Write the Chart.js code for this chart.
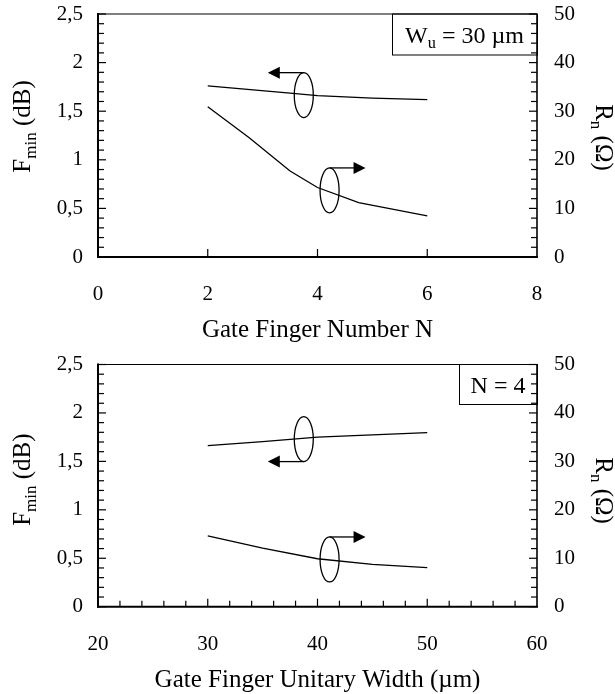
<!DOCTYPE html>
<html>
<head>
<meta charset="utf-8">
<script src="https://cdn.jsdelivr.net/npm/chart.js@4"></script>
<style>
  body { margin: 0; background: #fff; }
  canvas { display: block; }
</style>
</head>
<body>
<canvas id="top-chart" width="615" height="347"></canvas>
<canvas id="bottom-chart" width="615" height="347"></canvas>
<script>
// Top panel: versus gate finger number N (Wu = 30 um)
var fingerNF = [2, 3.5, 4, 5, 6];
var fminByN = [1.76, 1.685, 1.66, 1.635, 1.62];
var fingerNR = [2, 2.75, 3.5, 4, 4.75, 6];
var rnByN = [30.9, 24.6, 17.7, 14.3, 11.2, 8.45];

// Bottom panel: versus gate finger unitary width (N = 4)
var unitWidth = [30, 35, 40, 45, 50];
var fminByW = [1.662, 1.703, 1.75, 1.774, 1.796];
var rnByW = [14.6, 12.1, 9.9, 8.75, 8.05];

// Axis ticks
var fminTicks = [0, 0.5, 1, 1.5, 2, 2.5];
var rnTicks = [0, 10, 20, 30, 40, 50];
var nTicks = [0, 2, 4, 6, 8];
var wTicks = [20, 30, 40, 50, 60];

var FONT = '"Liberation Serif", "Times New Roman", serif';

function pts(xs, ys) {
  return xs.map(function (x, i) { return { x: x, y: ys[i] }; });
}

// draw a string made of normal and subscript parts
function partsWidth(ctx, parts, size) {
  var w = 0;
  parts.forEach(function (p) {
    ctx.font = (p.sub ? size * 0.68 : size) + 'px ' + FONT;
    w += ctx.measureText(p.t).width;
  });
  return w;
}
function drawParts(ctx, parts, x, y, size) {
  parts.forEach(function (p) {
    ctx.font = (p.sub ? size * 0.68 : size) + 'px ' + FONT;
    ctx.fillText(p.t, x, p.sub ? y + size * 0.22 : y);
    x += ctx.measureText(p.t).width;
  });
}

function line(ctx, x1, y1, x2, y2) {
  ctx.beginPath();
  ctx.moveTo(x1, y1);
  ctx.lineTo(x2, y2);
  ctx.stroke();
}

var decor = {
  id: 'decor',
  afterDatasetsDraw: function (chart, args, o) {
    var ctx = chart.ctx, a = chart.chartArea, s = chart.scales;
    ctx.save();
    ctx.strokeStyle = '#000';
    ctx.fillStyle = '#000';

    // frame
    ctx.lineWidth = 1;
    line(ctx, a.left, a.top, a.right, a.top);
    ctx.lineWidth = 2;
    line(ctx, a.left, a.top - 1, a.left, a.bottom + 1);
    line(ctx, a.left - 1, a.bottom, a.right + 1, a.bottom);
    ctx.lineWidth = 1.6;
    line(ctx, a.right, a.top, a.right, a.bottom);

    // inward ticks on the y axes (minor every 0.1)
    ctx.lineWidth = 1.2;
    for (var i = 0; i <= 25; i++) {
      var y = s.y.getPixelForValue(i / 10);
      var len = i % 5 === 0 ? 8 : 6;
      line(ctx, a.left, y, a.left + len, y);
      line(ctx, a.right, y, a.right - len, y);
    }
    // inward ticks on the x axis
    o.xTicks.forEach(function (v) {
      var x = s.x.getPixelForValue(v);
      var len = o.xMajor.indexOf(v) >= 0 ? 8 : 6;
      line(ctx, x, a.bottom, x, a.bottom - len);
    });

    // ellipses with arrows
    ctx.lineWidth = 1.3;
    o.marks.forEach(function (m) {
      var cx = s.x.getPixelForValue(m.x);
      var cy = s[m.axis].getPixelForValue(m.y);
      ctx.beginPath();
      ctx.ellipse(cx, cy, 9.5, 22.5, 0, 0, Math.PI * 2);
      ctx.stroke();
      var ay = m.from === 'top' ? cy - 22.5 : cy + 22.5;
      var dir = m.dir === 'left' ? -1 : 1;
      var tip = cx + dir * 36;
      line(ctx, cx, ay, tip - dir * 10, ay);
      ctx.beginPath();
      ctx.moveTo(tip, ay);
      ctx.lineTo(tip - dir * 12, ay - 6);
      ctx.lineTo(tip - dir * 12, ay + 6);
      ctx.closePath();
      ctx.fill();
    });

    // info box
    ctx.lineWidth = 1;
    ctx.strokeRect(o.box.left + 0.5, a.top, a.right - o.box.left, o.box.height);
    ctx.textAlign = 'left';
    ctx.textBaseline = 'alphabetic';
    var bw = partsWidth(ctx, o.box.parts, 24);
    drawParts(ctx, o.box.parts, o.box.left + (a.right - o.box.left - bw) / 2, a.top + o.box.height / 2 + 8.5, 24);

    // axis titles
    var midY = (a.top + a.bottom) / 2;
    var lp = [{ t: 'F' }, { t: 'min', sub: true }, { t: ' (dB)' }];
    var lw = partsWidth(ctx, lp, 25);
    ctx.save();
    ctx.translate(30, midY + o.leftShift);
    ctx.rotate(-Math.PI / 2);
    drawParts(ctx, lp, -lw / 2, 0, 25);
    ctx.restore();

    var rp = [{ t: 'R' }, { t: 'n', sub: true }, { t: ' (\u03A9)' }];
    var rw = partsWidth(ctx, rp, 25);
    ctx.save();
    ctx.translate(596, midY + o.rightShift);
    ctx.rotate(Math.PI / 2);
    drawParts(ctx, rp, -rw / 2, 0, 25);
    ctx.restore();

    ctx.font = '25px ' + FONT;
    ctx.textAlign = 'center';
    ctx.fillText(o.xTitle, (a.left + a.right) / 2, a.bottom + 80);
    ctx.restore();
  }
};

function noPad(sc) {
  sc.paddingTop = 0;
  sc.paddingBottom = 0;
}

function makeChart(id, cfg) {
  var ctx = document.getElementById(id).getContext('2d');
  return new Chart(ctx, {
    type: 'line',
    data: {
      datasets: [{
        data: pts(cfg.fx, cfg.fy),
        yAxisID: 'y',
        borderColor: '#000',
        borderWidth: 1.3,
        pointRadius: 0,
        tension: 0
      }, {
        data: pts(cfg.rx, cfg.ry),
        yAxisID: 'y2',
        borderColor: '#000',
        borderWidth: 1.3,
        pointRadius: 0,
        tension: 0
      }]
    },
    options: {
      responsive: false,
      animation: false,
      layout: { padding: { top: cfg.top, left: 0, right: 0, bottom: 0 } },
      scales: {
        x: {
          type: 'linear',
          min: cfg.xTickLabels[0],
          max: cfg.xTickLabels[cfg.xTickLabels.length - 1],
          afterBuildTicks: function (sc) { sc.ticks = cfg.xTickLabels.map(function (v) { return { value: v }; }); },
          grid: { display: false, drawTicks: false },
          border: { display: false },
          ticks: { color: '#000', padding: 25, maxRotation: 0, font: { family: FONT, size: 21 } },
          afterFit: function (sc) { sc.height = 347 - cfg.bottom; }
        },
        y: {
          position: 'left',
          min: 0,
          max: 2.5,
          afterBuildTicks: function (sc) { sc.ticks = fminTicks.map(function (v) { return { value: v }; }); },
          grid: { display: false, drawTicks: false },
          border: { display: false },
          ticks: {
            color: '#000', padding: 15, font: { family: FONT, size: 21 },
            callback: function (v) { return String(v).replace('.', ','); }
          },
          afterFit: function (sc) { sc.width = 98; noPad(sc); }
        },
        y2: {
          position: 'right',
          min: 0,
          max: 50,
          afterBuildTicks: function (sc) { sc.ticks = rnTicks.map(function (v) { return { value: v }; }); },
          grid: { display: false, drawTicks: false },
          border: { display: false },
          ticks: { color: '#000', padding: 17, font: { family: FONT, size: 21 } },
          afterFit: function (sc) { sc.width = 78; noPad(sc); }
        }
      },
      plugins: {
        legend: { display: false },
        tooltip: { enabled: false },
        decor: cfg.decor
      }
    },
    plugins: [decor]
  });
}

makeChart('top-chart', {
  fx: fingerNF, fy: fminByN, rx: fingerNR, ry: rnByN,
  xTickLabels: nTicks, top: 14, bottom: 257,
  decor: {
    xTicks: [2, 4, 6], xMajor: [2, 4, 6],
    xTitle: 'Gate Finger Number N',
    leftShift: -9, rightShift: 2,
    box: { left: 392, height: 41, parts: [{ t: 'W' }, { t: 'u', sub: true }, { t: ' = 30 \u00B5m' }] },
    marks: [
      { x: 3.75, y: 1.665, axis: 'y', from: 'top', dir: 'left' },
      { x: 4.22, y: 13.7, axis: 'y2', from: 'top', dir: 'right' }
    ]
  }
});

makeChart('bottom-chart', {
  fx: unitWidth, fy: fminByW, rx: unitWidth, ry: rnByW,
  xTickLabels: wTicks, top: 17.5, bottom: 259.7,
  decor: {
    xTicks: [22, 24, 26, 28, 30, 32, 34, 36, 38, 40, 42, 44, 46, 48, 50, 52, 54, 56, 58],
    xMajor: [30, 40, 50],
    xTitle: 'Gate Finger Unitary Width (\u00B5m)',
    leftShift: -6, rightShift: 5,
    box: { left: 459, height: 40, parts: [{ t: 'N = 4' }] },
    marks: [
      { x: 38.75, y: 1.73, axis: 'y', from: 'bottom', dir: 'left' },
      { x: 41.1, y: 9.75, axis: 'y2', from: 'top', dir: 'right' }
    ]
  }
});
</script>
</body>
</html>
